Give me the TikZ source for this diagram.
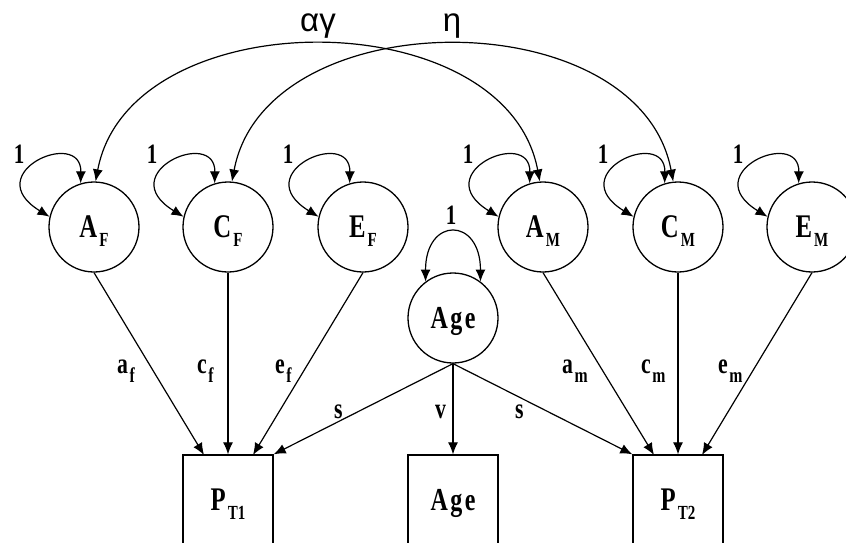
\documentclass[tikz,border=0pt]{standalone}
\usepackage{fontspec}
\setmainfont{Liberation Serif}
\newfontfamily\tb[FakeStretch=0.75]{Liberation Serif}
\newfontfamily\gk{Liberation Sans}
\usetikzlibrary{arrows.meta}
\newcommand\mlab[2]{\tb\bfseries\fontsize{33}{33}\selectfont #1\kern2pt\raisebox{-9pt}{\fontsize{20}{20}\selectfont #2}}
\newcommand\plab[2]{\tb\bfseries\fontsize{29}{29}\selectfont #1\kern1.5pt\raisebox{-9pt}{\fontsize{21}{21}\selectfont #2}}
\tikzset{
  lat/.style={circle,draw,line width=1.3pt,minimum size=90pt,inner sep=0pt,text height=20pt,text depth=0pt},
  obs/.style={rectangle,draw,line width=1.3pt,minimum width=90pt,minimum height=90pt,inner sep=0pt,text height=20pt,text depth=0pt},
  arr/.style={-{Latex[length=12pt,width=10pt]},line width=1.2pt},
  dbl/.style={{Latex[length=12pt,width=10pt]}-{Latex[length=12pt,width=10pt]},line width=1.2pt},
  one/.style={inner sep=0pt,font=\tb\bfseries\fontsize{28}{28}\selectfont},
  plb/.style={inner sep=0pt,anchor=base west},
  glb/.style={inner sep=0pt,anchor=base,font=\gk\fontsize{33}{33}\selectfont}
}
\begin{document}
\begin{tikzpicture}[x=1pt,y=-1pt]
\path[fill=white,use as bounding box] (0,0) rectangle (846,543);
% latent variables
\node[lat] (AF) at (94,227) {\mlab{A}{F}};
\node[lat] (CF) at (228,227) {\mlab{C}{F}};
\node[lat] (EF) at (363,227) {\mlab{E}{F}};
\node[lat] (AM) at (543,227) {\mlab{A}{M}};
\node[lat] (CM) at (678,227) {\mlab{C}{M}};
\node[lat] (EM) at (812,227) {\mlab{E}{M}};
\node[lat] (AgeL) at (453,318) {\tb\bfseries\fontsize{32}{32}\selectfont A\kern2.5pt g\kern2.5pt e};
% observed
\node[obs] (PT1) at (228,500) {\mlab{P}{T1}};
\node[obs] (AgeO) at (453,500) {\tb\bfseries\fontsize{32}{32}\selectfont A\kern2.5pt g\kern2.5pt e};
\node[obs] (PT2) at (678,500) {\mlab{P}{T2}};
% self loops
\foreach \n/\x in {AF/19,CF/152,EF/288,AM/468,CM/603,EM/738}{
  \draw[dbl] (\n.107) .. controls +(1,-56) and +(-72,-44) .. (\n.167);
  \node[one] (one\n) at (\x,154) {1};
}
\draw[dbl] (AgeL.127) .. controls +(0,-65) and +(0,-65) .. (AgeL.53);
\node[one] (oneAge) at (451,215) {1};
% covariance arcs
\draw[dbl] (AF.88) .. controls +(34,-182) and +(-34,-182) .. (AM.94);
\draw[dbl] (CF.85) .. controls +(34,-182) and +(-34,-182) .. (CM.96);
\node[glb] (lag) at (318,32) {αγ};
\node[glb] (leta) at (452,32) {η};
% targets on boxes
\coordinate (t1a) at (204,455);
\coordinate (t1e) at (253,455);
\coordinate (t2a) at (654,455);
\coordinate (t2e) at (702,455);
\draw[arr] (AF.south) -- (t1a);
\draw[arr] (CF.south) -- (PT1.north);
\draw[arr] (EF.south) -- (t1e);
\draw[arr] (AgeL.south) -- (PT1.north east);
\draw[arr] (AgeL.south) -- (AgeO.north);
\draw[arr] (AgeL.south) -- (PT2.north west);
\draw[arr] (AM.south) -- (t2a);
\draw[arr] (CM.south) -- (PT2.north);
\draw[arr] (EM.south) -- (t2e);
% path labels
\node[plb] (laf) at (117,373) {\plab{a}{f}};
\node[plb] (lcf) at (197,373) {\plab{c}{f}};
\node[plb] (lef) at (275,373) {\plab{e}{f}};
\node[plb] (ls1) at (334,418) {\plab{s}{}};
\node[plb] (lv) at (435,418) {\plab{v}{}};
\node[plb] (ls2) at (515,418) {\plab{s}{}};
\node[plb] (lam) at (562,373) {\plab{a}{m}};
\node[plb] (lcm) at (641,373) {\plab{c}{m}};
\node[plb] (lem) at (718,373) {\plab{e}{m}};
\end{tikzpicture}
\end{document}
